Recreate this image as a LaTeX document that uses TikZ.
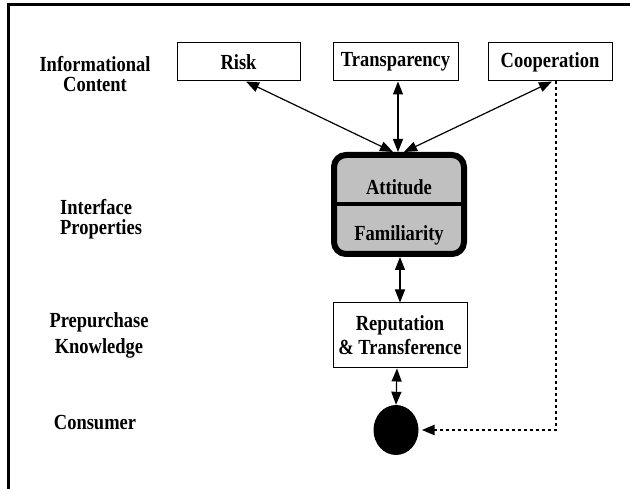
\documentclass[tikz,border=0pt]{standalone}
\usepackage{fontspec}
\setmainfont[FakeStretch=0.86]{Liberation Serif}
\usepackage{tikz}
\usetikzlibrary{%
  positioning,%
  arrows.meta,%
  shapes.geometric%
}
\definecolor{boxgray}{HTML}{C0C0C0}

\begin{document}
\begin{tikzpicture}[x=1pt,y=-1pt,
	every node/.style={font=\bfseries\fontsize{21.5}{20}\selectfont, inner sep=0pt},
	infobox/.style={draw, line width=1pt, minimum height=38pt},
	twoway/.style={{Triangle[length=13pt,width=10pt]}-{Triangle[length=13pt,width=10pt]}, line width=1.2pt},
	dotline/.style={-{Triangle[length=13pt,width=10pt]}, line width=2.5pt, dash pattern=on 2.5pt off 3.5pt, shorten >=3pt}
	]
	\useasboundingbox (0,0) rectangle (630,489);
	%Frame
	\draw[line width=3pt] (8,489) -- (8,5) -- (630,5);
	%Nodes
	\node[infobox, minimum width=123pt] (R) at (238.5,62) {Risk};
	\node[infobox, minimum width=125pt] (T) at (395.5,62) {Transparency};
	\node[infobox, minimum width=124pt] (C) at (550,62) {Cooperation};
	\node[draw, line width=6pt, rounded corners=12pt, fill=boxgray,
		minimum width=130pt, minimum height=99pt] (I) at (399,204.5) {};
	\draw[line width=4pt] (I.west) -- (I.east);
	\node (A) at (399,187) {Attitude};
	\node (F) at (399,235) {Familiarity};
	\node[infobox, minimum width=134pt, minimum height=65pt, align=center] (K) at (400,335.5) {Reputation\\[4pt]\& Transference};
	\node[ellipse, fill=black, minimum width=45pt, minimum height=50pt] (P) at (396,430) {};
	%Row labels
	\node[align=center] (L1) at (95,74) {Informational\\Content};
	\node[align=left, anchor=west] (L2) at (60,219) {Interface\\Properties};
	\node[align=center] (L3) at (99,335) {Prepurchase\\[6pt]Knowledge};
	\node (L4) at (95,423) {Consumer};
	%Arrows
	\draw[twoway] ([xshift=7.5pt]R.south) -- ([xshift=-6pt]I.north);
	\draw[twoway] ([xshift=2.5pt]T.south) -- ([xshift=-1pt]I.north);
	\draw[twoway] ([xshift=2pt]C.south) -- ([xshift=5pt]I.north);
	\draw[twoway] ([xshift=1pt]I.south) -- (K.north);
	\draw[twoway] ([xshift=-3pt]K.south) -- (P.north);
	\draw[dotline] ([xshift=6pt]C.south) |- (P);
\end{tikzpicture}
\end{document}
